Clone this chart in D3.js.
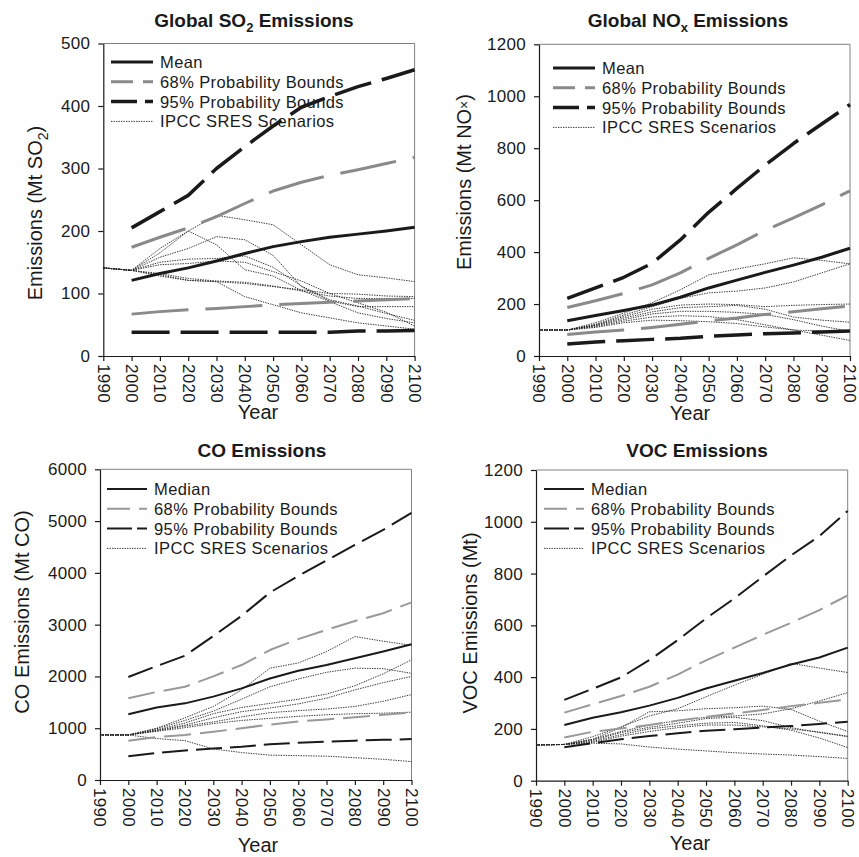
<!DOCTYPE html>
<html>
<head>
<meta charset="utf-8">
<script src="https://cdn.jsdelivr.net/npm/d3@7"></script>
<style>
  html, body { margin: 0; padding: 0; background: #fff; }
  svg { display: block; font-family: "Liberation Sans", Arial, Helvetica, sans-serif; }
</style>
</head>
<body>
<svg id="chart" width="859" height="857"></svg>
<script>
// ---------------- DATA ----------------
const boundYears = [2000, 2010, 2020, 2030, 2040, 2050, 2060, 2070, 2080, 2090, 2100];
const scenarioYears = [1990, 2000, 2010, 2020, 2030, 2040, 2050, 2060, 2070, 2080, 2090, 2100];
const xTickYears = [1990, 2000, 2010, 2020, 2030, 2040, 2050, 2060, 2070, 2080, 2090, 2100];

// SO2 (Mt SO2)
const so2Mean    = [121, 132, 141, 152, 164, 175, 183, 190, 195, 200, 206];
const so2Upper68 = [174, 190, 205, 223, 244, 264, 278, 289, 298, 308, 318];
const so2Lower68 = [67, 71, 74, 76, 79, 82, 84, 86, 88, 90, 92];
const so2Upper95 = [205, 231, 257, 300, 335, 368, 398, 415, 431, 444, 458];
const so2Lower95 = [38, 38, 38, 38, 38, 38, 38, 38, 40, 40, 41];
const so2Scenarios = [
  [141, 137, 172, 200, 225, 218, 210, 178, 146, 130, 125, 119],
  [141, 137, 165, 200, 178, 138, 128, 105, 87, 69, 60, 53],
  [141, 137, 158, 172, 191, 186, 161, 111, 88, 79, 79, 79],
  [141, 137, 150, 155, 156, 160, 142, 112, 90, 80, 68, 57],
  [141, 137, 146, 148, 152, 150, 135, 120, 100, 85, 70, 48],
  [141, 137, 130, 121, 119, 116, 111, 106, 100, 99, 96, 95],
  [141, 137, 128, 121, 119, 95, 82, 69, 61, 53, 48, 43],
  [141, 137, 132, 124, 120, 118, 112, 104, 96, 92, 92, 92]
];

// NOx (Mt NOx)
const noxMean    = [136, 156, 175, 196, 226, 262, 292, 322, 350, 380, 415];
const noxUpper68 = [187, 213, 241, 274, 320, 376, 428, 484, 532, 582, 636];
const noxLower68 = [83, 92, 100, 110, 122, 135, 146, 160, 170, 182, 193];
const noxUpper95 = [222, 262, 303, 357, 447, 553, 645, 735, 818, 893, 968];
const noxLower95 = [46, 54, 59, 64, 68, 76, 81, 86, 89, 92, 96];
const noxScenarios = [
  [100, 100, 128, 165, 205, 255, 312, 335, 355, 378, 368, 355],
  [100, 100, 122, 158, 190, 222, 243, 250, 262, 285, 320, 355],
  [100, 100, 120, 152, 180, 196, 200, 198, 190, 195, 198, 200],
  [100, 100, 118, 146, 170, 186, 190, 195, 180, 150, 138, 130],
  [100, 100, 116, 140, 162, 172, 172, 168, 160, 140, 115, 95],
  [100, 100, 113, 134, 150, 155, 152, 140, 120, 100, 80, 60],
  [100, 100, 110, 128, 138, 136, 132, 125, 112, 100, 96, 95]
];

// CO (Mt CO)
const coMedian   = [1270, 1400, 1480, 1610, 1770, 1960, 2110, 2220, 2350, 2480, 2620];
const coUpper68  = [1580, 1700, 1800, 2000, 2220, 2510, 2720, 2900, 3070, 3220, 3430];
const coLower68  = [760, 830, 870, 930, 1000, 1070, 1130, 1170, 1210, 1260, 1300];
const coUpper95  = [1990, 2200, 2400, 2780, 3170, 3620, 3940, 4240, 4540, 4830, 5160];
const coLower95  = [460, 520, 570, 610, 640, 690, 720, 740, 760, 775, 790];
const coScenarios = [
  [870, 870, 1000, 1200, 1420, 1740, 2160, 2260, 2480, 2770, 2680, 2600],
  [870, 870, 990, 1150, 1330, 1560, 1800, 1950, 2080, 2160, 2150, 2060],
  [870, 870, 970, 1100, 1280, 1400, 1480, 1560, 1660, 1820, 2050, 2320],
  [870, 870, 960, 1060, 1200, 1320, 1390, 1470, 1580, 1740, 1880, 2000],
  [870, 870, 950, 1040, 1120, 1220, 1300, 1340, 1370, 1420, 1520, 1650],
  [870, 870, 940, 1010, 1090, 1150, 1190, 1230, 1260, 1280, 1290, 1310],
  [870, 870, 800, 760, 600, 530, 480, 470, 460, 430, 400, 355]
];

// VOC (Mt)
const vocMedian  = [215, 243, 264, 290, 320, 356, 386, 416, 449, 476, 514];
const vocUpper68 = [263, 295, 327, 363, 410, 465, 514, 563, 610, 659, 716];
const vocLower68 = [167, 189, 202, 215, 232, 247, 260, 273, 288, 301, 314];
const vocUpper95 = [312, 355, 399, 466, 543, 627, 704, 788, 870, 945, 1042];
const vocLower95 = [129, 145, 160, 173, 183, 193, 199, 205, 211, 219, 228];
const vocScenarios = [
  [138, 140, 170, 208, 250, 278, 324, 369, 411, 453, 435, 418],
  [138, 140, 160, 190, 215, 232, 245, 250, 258, 278, 308, 340],
  [138, 140, 160, 205, 266, 270, 278, 282, 288, 275, 230, 190],
  [138, 140, 156, 186, 206, 222, 240, 245, 232, 205, 186, 170],
  [138, 140, 152, 178, 200, 212, 222, 225, 212, 195, 165, 128],
  [138, 140, 148, 172, 190, 205, 215, 215, 208, 200, 188, 172],
  [138, 140, 145, 142, 130, 122, 115, 108, 103, 99, 93, 86]
];

const legendLabelsMean = ["Mean", "68% Probability Bounds", "95% Probability Bounds", "IPCC SRES Scenarios"];
const legendLabelsMedian = ["Median", "68% Probability Bounds", "95% Probability Bounds", "IPCC SRES Scenarios"];

// ---------------- DRAWING ----------------
const svg = d3.select("#chart");
const FONT = '"Liberation Sans", Arial, Helvetica, sans-serif';

const thick = {
  center: { stroke: "#1a1a1a", width: 3, dash: null },
  b68:    { stroke: "#8a8a8a", width: 3, dash: "57,17" },
  b95:    { stroke: "#1a1a1a", width: 3.5, dash: "38,11" },
  leg68: "22,10", leg95: "26,8"
};
const thin = {
  center: { stroke: "#1a1a1a", width: 2, dash: null },
  b68:    { stroke: "#999999", width: 2, dash: "27,9" },
  b95:    { stroke: "#1a1a1a", width: 2, dash: "26,8" },
  leg68: "23,9", leg95: "25,5"
};

const panels = [
  { x0: 103.3, x1: 414.6, yTop: 43.5, yBot: 356, ymax: 500, step: 100,
    title: [["Global SO", 0], ["2", 1], [" Emissions", 0]], titleX: 254, titleY: 27,
    ylab: [["Emissions (Mt SO", 0], ["2", 1], [")", 0]], ylabX: 42, ylabY: 213,
    yearX: 258, yearY: 419,
    legX: 111, legY: 62, legLen: 42, legLabels: legendLabelsMean, style: thick,
    center: so2Mean, u68: so2Upper68, l68: so2Lower68, u95: so2Upper95, l95: so2Lower95, scen: so2Scenarios },
  { x0: 539, x1: 850, yTop: 44.3, yBot: 356, ymax: 1200, step: 200,
    title: [["Global NO", 0], ["x", 1], [" Emissions", 0]], titleX: 688, titleY: 27,
    ylab: [["Emissions (Mt NO", 0], ["×", 2], [")", 0]], ylabX: 471, ylabY: 182,
    yearX: 690, yearY: 420,
    legX: 553, legY: 68, legLen: 42, legLabels: legendLabelsMean, style: thick,
    center: noxMean, u68: noxUpper68, l68: noxLower68, u95: noxUpper95, l95: noxLower95, scen: noxScenarios },
  { x0: 100, x1: 411.5, yTop: 469.3, yBot: 780, ymax: 6000, step: 1000,
    title: [["CO Emissions", 0]], titleX: 262, titleY: 457,
    ylab: [["CO Emissions (Mt CO)", 0]], ylabX: 29, ylabY: 612,
    yearX: 258, yearY: 852,
    legX: 107, legY: 489, legLen: 40, legLabels: legendLabelsMedian, style: thin,
    center: coMedian, u68: coUpper68, l68: coLower68, u95: coUpper95, l95: coLower95, scen: coScenarios },
  { x0: 536, x1: 847.7, yTop: 470, yBot: 780.7, ymax: 1200, step: 200,
    title: [["VOC Emissions", 0]], titleX: 697, titleY: 457,
    ylab: [["VOC Emissions (Mt)", 0]], ylabX: 477, ylabY: 623,
    yearX: 690, yearY: 850,
    legX: 544, legY: 489, legLen: 40, legLabels: legendLabelsMedian, style: thin,
    center: vocMedian, u68: vocUpper68, l68: vocLower68, u95: vocUpper95, l95: vocLower95, scen: vocScenarios }
];

function addRichText(sel, parts, baseSize, subSize) {
  parts.forEach(([t, kind], i) => {
    const ts = sel.append("tspan").text(t);
    if (kind === 1) { ts.attr("font-size", subSize).attr("dy", baseSize * 0.28); }
    else if (kind === 2) { ts.attr("font-size", subSize).attr("dy", -baseSize * 0.12); }
    else if (i > 0 && parts[i - 1][1] === 1) { ts.attr("dy", -baseSize * 0.28); }
    else if (i > 0 && parts[i - 1][1] === 2) { ts.attr("dy", baseSize * 0.12); }
  });
}

panels.forEach(p => {
  const g = svg.append("g");
  const x = d3.scaleLinear().domain([1990, 2100]).range([p.x0, p.x1]);
  const y = d3.scaleLinear().domain([0, p.ymax]).range([p.yBot, p.yTop]);
  const line = d3.line().x(d => x(d[0])).y(d => y(d[1]));

  // frame (top & right)
  g.append("path")
    .attr("d", `M${x(1990)},${y(p.ymax)}H${x(2100)}V${y(0)}`)
    .attr("fill", "none").attr("stroke", "#808080").attr("stroke-width", 1);

  // scenarios
  p.scen.forEach(s => {
    g.append("path")
      .datum(scenarioYears.map((yr, i) => [yr, s[i]]))
      .attr("d", line)
      .attr("fill", "none").attr("stroke", "#222").attr("stroke-width", 0.9)
      .attr("stroke-dasharray", "1.4,1.1");
  });

  const st = p.style;
  const drawSeries = (vals, s) => {
    const path = g.append("path")
      .datum(boundYears.map((yr, i) => [yr, vals[i]]))
      .attr("d", line)
      .attr("fill", "none").attr("stroke", s.stroke).attr("stroke-width", s.width)
      .attr("stroke-linejoin", "round");
    if (s.dash) path.attr("stroke-dasharray", s.dash);
  };
  drawSeries(p.l95, st.b95);
  drawSeries(p.l68, st.b68);
  drawSeries(p.u95, st.b95);
  drawSeries(p.u68, st.b68);
  drawSeries(p.center, st.center);

  // axes
  const yAxis = d3.axisLeft(y).tickValues(d3.range(0, p.ymax + 1, p.step))
    .tickSize(5).tickSizeOuter(0).tickPadding(8).tickFormat(d3.format("d"));
  const ya = g.append("g").attr("transform", `translate(${p.x0},0)`).call(yAxis);
  const xAxis = d3.axisBottom(x).tickValues(xTickYears)
    .tickSize(5).tickSizeOuter(0).tickFormat(d3.format("d"));
  const xa = g.append("g").attr("transform", `translate(0,${p.yBot})`).call(xAxis);
  xa.selectAll(".tick text")
    .attr("transform", "rotate(90)")
    .attr("x", 8).attr("y", 0).attr("dy", "0.36em")
    .style("text-anchor", "start");
  [ya, xa].forEach(a => {
    a.attr("font-family", FONT).attr("font-size", 17);
    a.selectAll("text").attr("fill", "#1a1a1a").style("letter-spacing", "0.3px");
    a.select(".domain").attr("stroke", "#1a1a1a").attr("stroke-width", 1.2);
    a.selectAll(".tick line").attr("stroke", "#1a1a1a").attr("stroke-width", 1.2);
  });

  // title
  const t = g.append("text").attr("x", p.titleX).attr("y", p.titleY)
    .attr("text-anchor", "middle").attr("font-weight", "bold").attr("font-size", 19)
    .attr("fill", "#1a1a1a");
  addRichText(t, p.title, 19, 13);

  // y label
  const yl = g.append("text")
    .attr("transform", `translate(${p.ylabX},${p.ylabY}) rotate(-90)`)
    .attr("text-anchor", "middle").attr("font-size", 20).attr("fill", "#1a1a1a");
  addRichText(yl, p.ylab, 20, 14);

  // x label
  g.append("text").attr("x", p.yearX).attr("y", p.yearY)
    .attr("text-anchor", "middle").attr("font-size", 20).attr("fill", "#1a1a1a")
    .text("Year");

  // legend
  const legStyles = [
    { stroke: st.center.stroke, width: st.center.width, dash: null },
    { stroke: st.b68.stroke, width: st.b68.width, dash: st.leg68 },
    { stroke: st.b95.stroke, width: st.b95.width, dash: st.leg95 },
    { stroke: "#222", width: 0.9, dash: "1.4,1.1" }
  ];
  const rowH = 19.8;
  p.legLabels.forEach((lab, i) => {
    const ly = p.legY + i * rowH;
    const ls = legStyles[i];
    const l = g.append("line").attr("x1", p.legX).attr("x2", p.legX + p.legLen)
      .attr("y1", ly).attr("y2", ly)
      .attr("stroke", ls.stroke).attr("stroke-width", ls.width);
    if (ls.dash) l.attr("stroke-dasharray", ls.dash);
    g.append("text").attr("x", p.legX + p.legLen + 7).attr("y", ly + 6)
      .attr("font-size", 16.5).attr("fill", "#1a1a1a").style("letter-spacing", "0.4px")
      .text(lab);
  });
});
</script>
</body>
</html>
